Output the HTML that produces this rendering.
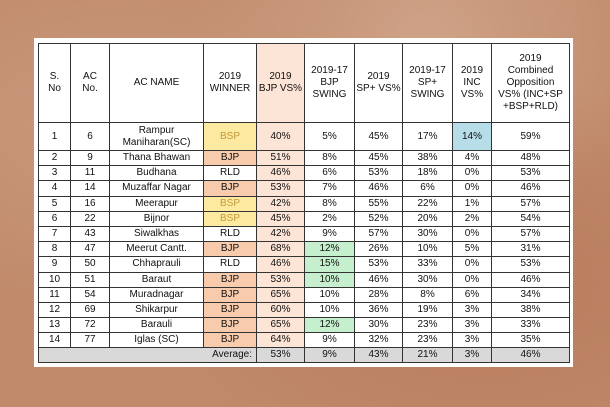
<!DOCTYPE html>
<html><head><style>
html,body{margin:0;padding:0;}
body{width:610px;height:407px;overflow:hidden;position:relative;
background:radial-gradient(ellipse at 20% 30%,#c99a7c 0%,transparent 45%),radial-gradient(ellipse at 80% 70%,#b87c5c 0%,transparent 50%),radial-gradient(ellipse at 70% 10%,#cfa287 0%,transparent 40%),#c08a6b;
font-family:"Liberation Sans",sans-serif;}
.panel{position:absolute;left:34px;top:38px;width:539px;height:329px;background:#fff;}
table{position:absolute;left:38px;top:43px;border-collapse:collapse;table-layout:fixed;font-size:10px;color:#111;}
td{border:1px solid #333;text-align:center;padding:0;line-height:12px;overflow:hidden;white-space:nowrap;}
tr.h td{height:78px;white-space:normal;}
tr.r td{height:14.2px;}
tr.r1 td{height:27px;}
.y{background:#fde9a0;color:#c49a3a;}
.b{background:#f8cbad;}
.p{background:#fce4d6;}
.g{background:#c6efce;}
.c{background:#b7dee8;}
tr.a td{background:#d9d9d9;height:14px;}
</style></head><body>
<div class="panel"></div>
<table>
<colgroup><col style="width:32px"><col style="width:39px"><col style="width:94px"><col style="width:53px"><col style="width:48px"><col style="width:50px"><col style="width:48px"><col style="width:50px"><col style="width:39px"><col style="width:78px"></colgroup>
<tr class="h"><td>S.<br>No</td><td>AC<br>No.</td><td>AC NAME</td><td>2019<br>WINNER</td><td class="p">2019<br>BJP VS%</td><td>2019-17<br>BJP<br>SWING</td><td>2019<br>SP+ VS%</td><td>2019-17<br>SP+<br>SWING</td><td>2019<br>INC<br>VS%</td><td>2019<br>Combined<br>Opposition<br>VS% (INC+SP<br>+BSP+RLD)</td></tr>
<tr class="r r1"><td>1</td><td>6</td><td>Rampur<br>Maniharan(SC)</td><td class="y">BSP</td><td class="p">40%</td><td>5%</td><td>45%</td><td>17%</td><td class="c">14%</td><td>59%</td></tr>
<tr class="r"><td>2</td><td>9</td><td>Thana Bhawan</td><td class="b">BJP</td><td class="p">51%</td><td>8%</td><td>45%</td><td>38%</td><td>4%</td><td>48%</td></tr>
<tr class="r"><td>3</td><td>11</td><td>Budhana</td><td>RLD</td><td class="p">46%</td><td>6%</td><td>53%</td><td>18%</td><td>0%</td><td>53%</td></tr>
<tr class="r"><td>4</td><td>14</td><td>Muzaffar Nagar</td><td class="b">BJP</td><td class="p">53%</td><td>7%</td><td>46%</td><td>6%</td><td>0%</td><td>46%</td></tr>
<tr class="r"><td>5</td><td>16</td><td>Meerapur</td><td class="y">BSP</td><td class="p">42%</td><td>8%</td><td>55%</td><td>22%</td><td>1%</td><td>57%</td></tr>
<tr class="r"><td>6</td><td>22</td><td>Bijnor</td><td class="y">BSP</td><td class="p">45%</td><td>2%</td><td>52%</td><td>20%</td><td>2%</td><td>54%</td></tr>
<tr class="r"><td>7</td><td>43</td><td>Siwalkhas</td><td>RLD</td><td class="p">42%</td><td>9%</td><td>57%</td><td>30%</td><td>0%</td><td>57%</td></tr>
<tr class="r"><td>8</td><td>47</td><td>Meerut Cantt.</td><td class="b">BJP</td><td class="p">68%</td><td class="g">12%</td><td>26%</td><td>10%</td><td>5%</td><td>31%</td></tr>
<tr class="r"><td>9</td><td>50</td><td>Chhaprauli</td><td>RLD</td><td class="p">46%</td><td class="g">15%</td><td>53%</td><td>33%</td><td>0%</td><td>53%</td></tr>
<tr class="r"><td>10</td><td>51</td><td>Baraut</td><td class="b">BJP</td><td class="p">53%</td><td class="g">10%</td><td>46%</td><td>30%</td><td>0%</td><td>46%</td></tr>
<tr class="r"><td>11</td><td>54</td><td>Muradnagar</td><td class="b">BJP</td><td class="p">65%</td><td>10%</td><td>28%</td><td>8%</td><td>6%</td><td>34%</td></tr>
<tr class="r"><td>12</td><td>69</td><td>Shikarpur</td><td class="b">BJP</td><td class="p">60%</td><td>10%</td><td>36%</td><td>19%</td><td>3%</td><td>38%</td></tr>
<tr class="r"><td>13</td><td>72</td><td>Barauli</td><td class="b">BJP</td><td class="p">65%</td><td class="g">12%</td><td>30%</td><td>23%</td><td>3%</td><td>33%</td></tr>
<tr class="r"><td>14</td><td>77</td><td>Iglas (SC)</td><td class="b">BJP</td><td class="p">64%</td><td>9%</td><td>32%</td><td>23%</td><td>3%</td><td>35%</td></tr>
<tr class="a"><td colspan="4" style="text-align:right;padding-right:4px;">Average:</td><td>53%</td><td>9%</td><td>43%</td><td>21%</td><td>3%</td><td>46%</td></tr>
</table>
</body></html>
